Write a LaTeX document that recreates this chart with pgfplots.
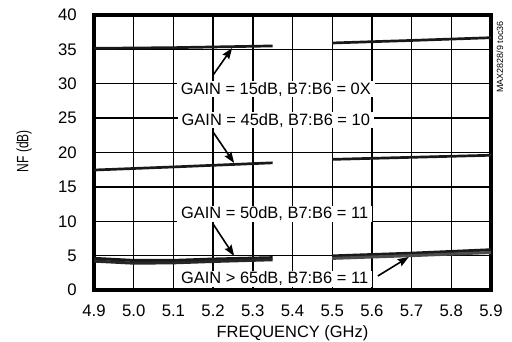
\documentclass[border=0pt]{standalone}
\usepackage{pgfplots}
\pgfplotsset{compat=1.18}
\usepackage{fontspec}
\setmainfont{Liberation Sans}
\usetikzlibrary{arrows.meta}
\begin{document}
\begin{tikzpicture}
\path[use as bounding box] (-94bp,-52bp) rectangle (418bp,290bp);
\begin{axis}[
  at={(0,0)}, anchor=south west,
  scale only axis, width=397bp, height=275bp,
  xmin=4.9, xmax=5.9, ymin=0, ymax=40,
  xtick={4.9,5.0,5.1,5.2,5.3,5.4,5.5,5.6,5.7,5.8,5.9},
  xticklabels={4.9,5.0,5.1,5.2,5.3,5.4,5.5,5.6,5.7,5.8,5.9},
  ytick={0,5,10,15,20,25,30,35,40},
  /pgf/number format/assume math mode=true,
  grid=major, major grid style={black, line width=1.4bp},
  major tick length=0pt,
  axis line style={line width=4bp},
  clip=false,
  xticklabel style={font=\fontsize{16.8}{19}\selectfont, anchor=base, yshift=-26bp},
  yticklabel style={font=\fontsize{16.8}{19}\selectfont, anchor=east, xshift=-13.7bp},
  xlabel={FREQUENCY (GHz)},
  xlabel style={at={(axis description cs:0.5,-0.1745)}, anchor=base, font=\fontsize{16.5}{19}\selectfont},
  ylabel={\scalebox{0.73}[1]{NF (dB)}},
  ylabel style={at={(axis description cs:-0.176,0.505)}, anchor=center, font=\fontsize{16.5}{19}\selectfont},
]
% GAIN = 15dB
\addplot[line width=2.7bp, black!90] coordinates {(4.9,35.15) (5.1,35.25) (5.35,35.5)};
\addplot[line width=2.7bp, black!90] coordinates {(5.5,35.93) (5.7,36.3) (5.9,36.7)};
% GAIN = 45dB
\addplot[line width=2.7bp, black!90] coordinates {(4.9,17.45) (5.1,17.9) (5.35,18.5)};
\addplot[line width=2.7bp, black!90] coordinates {(5.5,19.0) (5.7,19.3) (5.9,19.6)};
% GAIN = 50dB
\addplot[line width=3bp, black!90] coordinates {(4.9,4.6) (5.0,4.3) (5.1,4.3) (5.2,4.5) (5.35,4.7)};
\addplot[line width=3bp, black!90] coordinates {(5.5,4.95) (5.7,5.35) (5.9,5.85)};
% GAIN > 65dB
\addplot[line width=3bp, black!85] coordinates {(4.9,4.2) (5.0,3.9) (5.1,3.95) (5.2,4.15) (5.35,4.4)};
\addplot[line width=3bp, black!70] coordinates {(5.5,4.6) (5.7,5.0) (5.9,5.45)};

\tikzset{lbl/.style={fill=white, inner xsep=4bp, inner ysep=1bp, anchor=base, font=\fontsize{16.5}{19}\selectfont}}
\node[lbl] at (axis cs:5.358,28.5) {GAIN = 15dB, B7:B6 = 0X};
\node[lbl] at (axis cs:5.358,24.0) {GAIN = 45dB, B7:B6 = 10};
\node[lbl] at (axis cs:5.355,10.37) {GAIN = 50dB, B7:B6 = 11};
\node[lbl] at (axis cs:5.355,0.92) {GAIN > 65dB, B7:B6 = 11};

\tikzset{arr/.style={line width=1.6bp, -{Stealth[length=11bp,width=8bp,inset=1.5bp]}}}
\draw[arr] (axis cs:5.2,31.27) -- (axis cs:5.248,35.2);
\draw[arr] (axis cs:5.2,22.98) -- (axis cs:5.253,18.47);
\draw[arr] (axis cs:5.2,9.6) -- (axis cs:5.253,4.95);
\draw[arr] (axis cs:5.615,2.04) -- (axis cs:5.693,4.8);

\node[rotate=90, font=\fontsize{9}{10}\selectfont, anchor=center] at (rel axis cs:1.0227,0.847) {MAX2828/9 toc36};
\end{axis}
\end{tikzpicture}
\end{document}
